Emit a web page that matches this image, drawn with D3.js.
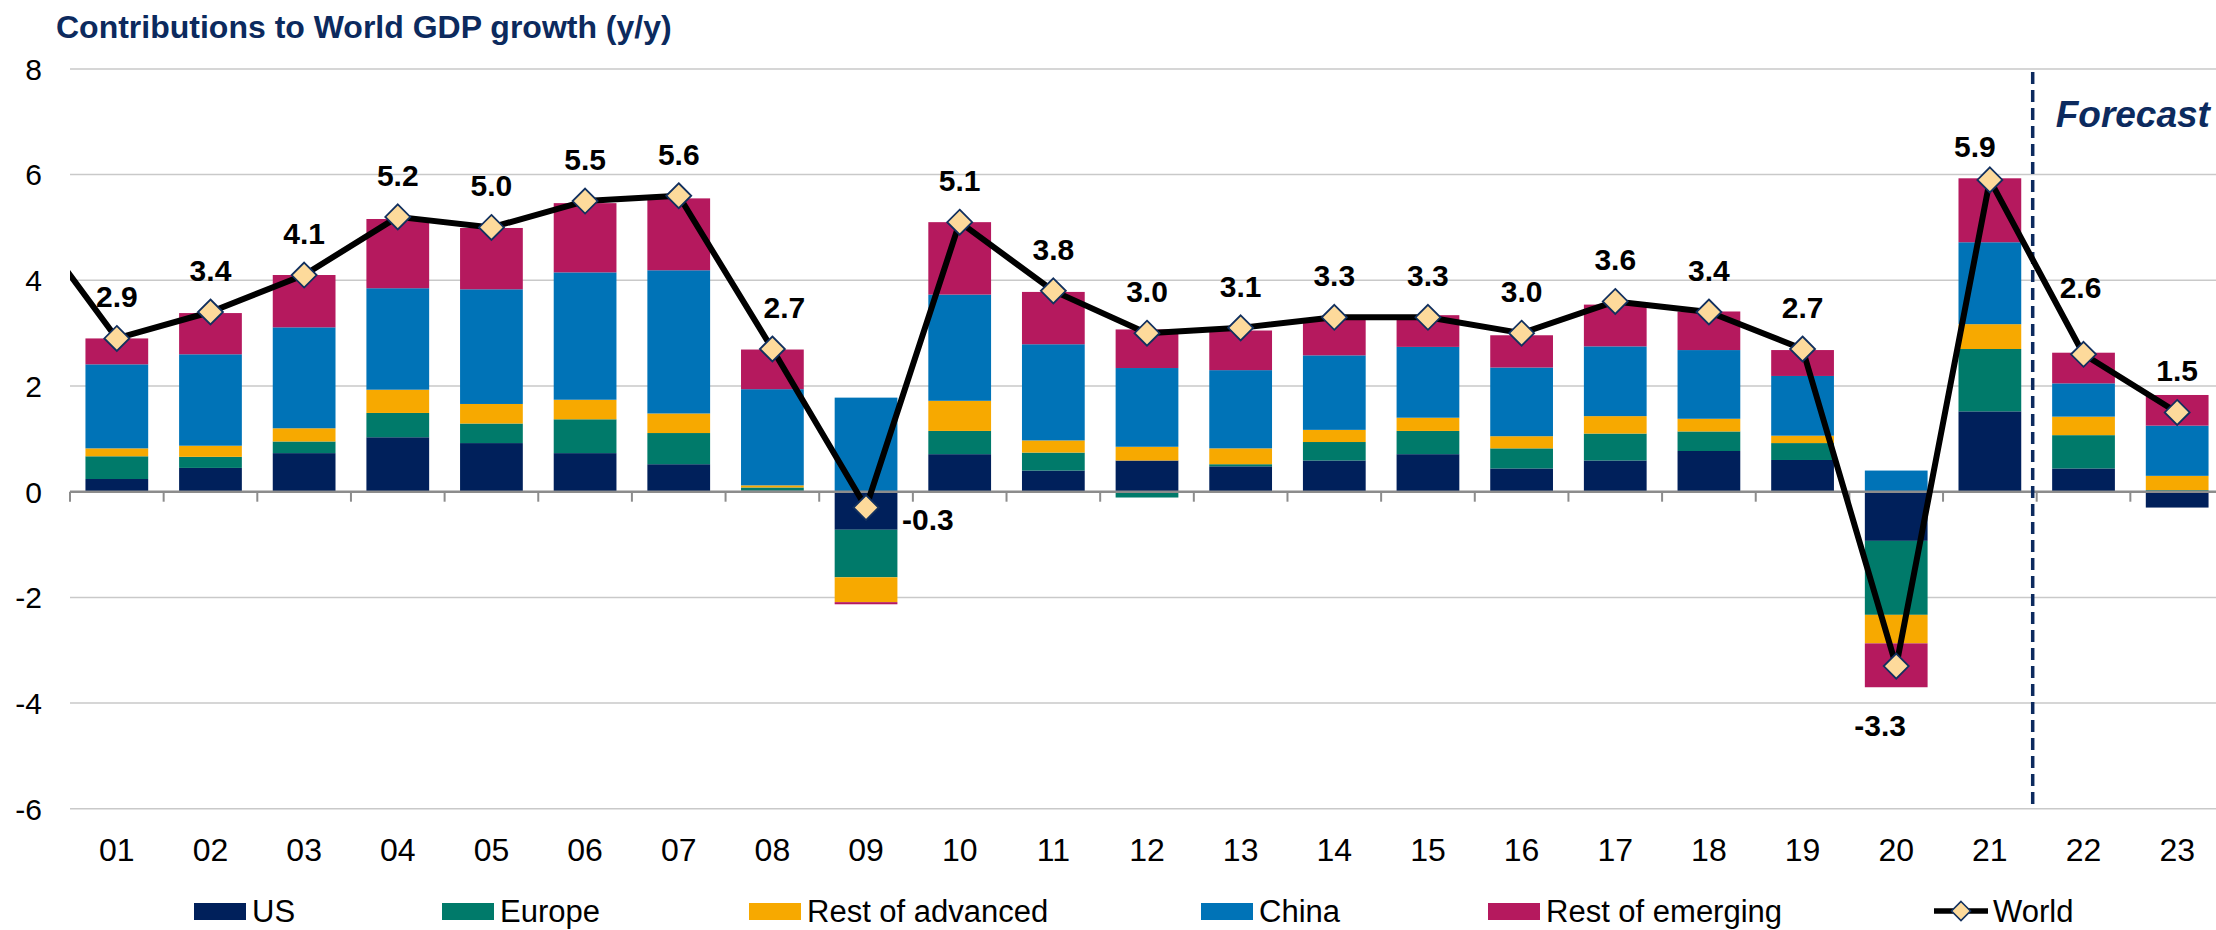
<!DOCTYPE html>
<html><head>
<meta charset="utf-8">
<title>Contributions to World GDP growth</title>
<script src="https://d3js.org/d3.v7.min.js"></script>
<style>
  body { margin: 0; background: white; font-family: Arial, "Liberation Sans", Helvetica, sans-serif; }
  .grid line { stroke: #c9c9c9; stroke-width: 1.5; }
  .tick-label { font-size: 30px; fill: #000; }
  .x-label { font-size: 32px; fill: #000; }
  .val-label { font-size: 30px; font-weight: bold; fill: #000; }
  .legend text { font-size: 31px; fill: #000; }
</style>
</head>
<body>
<div id="chart"></div>
<script>
// chart data
var years = ["01","02","03","04","05","06","07","08","09","10","11","12","13","14","15","16","17","18","19","20","21","22","23"];
var seriesNames = ["US", "Europe", "Rest of advanced", "China", "Rest of emerging"];
var us       = [0.24,0.45,0.73,1.03,0.92,0.73,0.52,0.02,-0.72,0.71,0.40,0.59,0.48,0.59,0.71,0.44,0.59,0.77,0.60,-0.93,1.52,0.44,-0.30];
var europe   = [0.43,0.21,0.22,0.46,0.37,0.64,0.59,0.06,-0.90,0.44,0.34,-0.11,0.04,0.35,0.44,0.38,0.51,0.37,0.32,-1.40,1.18,0.63,0.03];
var restAdv  = [0.15,0.21,0.25,0.44,0.37,0.37,0.37,0.04,-0.47,0.57,0.23,0.26,0.30,0.23,0.25,0.23,0.33,0.24,0.14,-0.54,0.47,0.35,0.27];
var china    = [1.59,1.73,1.91,1.92,2.17,2.41,2.71,1.82,1.78,2.01,1.82,1.49,1.48,1.41,1.34,1.30,1.32,1.30,1.13,0.40,1.55,0.63,0.95];
var restEm   = [0.49,0.78,0.99,1.31,1.16,1.31,1.36,0.75,-0.04,1.37,0.99,0.73,0.75,0.68,0.60,0.61,0.79,0.73,0.49,-0.83,1.21,0.58,0.58];
var world    = [2.9,3.4,4.1,5.2,5.0,5.5,5.6,2.7,-0.3,5.1,3.8,3.0,3.1,3.3,3.3,3.0,3.6,3.4,2.7,-3.3,5.9,2.6,1.5];
var worldPrev = 5.3;   // 2000 value, only the line going in from the left edge shows
var yTicks = [-6,-4,-2,0,2,4,6,8];
var firstForecast = "22";

var colors = ["#00205b", "#007a6a", "#f7a900", "#0073b7", "#b5195e"];

var W = 2216, H = 930;
var left = 70, right = 2224;

var svg = d3.select("#chart").append("svg")
  .attr("width", W).attr("height", H);

// scales
var x = d3.scaleBand()
  .domain(years)
  .range([left, right])
  .paddingInner(0.33)
  .paddingOuter(0.165);

var y = d3.scaleLinear()
  .domain([-6, 8])
  .range([808.8, 68.9]);

var step = x.step();
var cx = function(d) { return x(d) + x.bandwidth() / 2; };

// title
svg.append("text")
  .attr("x", 56).attr("y", 38)
  .style("font-size", "32px").style("font-weight", "bold").style("fill", "#0c2a5e")
  .text("Contributions to World GDP growth (y/y)");

// gridlines
svg.append("g").attr("class", "grid")
  .selectAll("line").data(yTicks.filter(function(t) { return t != 0; }))
  .join("line")
  .attr("x1", left).attr("x2", W)
  .attr("y1", function(d) { return y(d); }).attr("y2", function(d) { return y(d); });

// y labels
svg.append("g").selectAll("text").data(yTicks)
  .join("text")
  .attr("class", "tick-label")
  .attr("x", 42).attr("y", function(d) { return y(d); })
  .attr("dy", "0.36em")
  .attr("text-anchor", "end")
  .text(function(d) { return d; });

// stacked bars
var table = years.map(function(yr, i) {
  return {year: yr, "US": us[i], "Europe": europe[i], "Rest of advanced": restAdv[i],
          "China": china[i], "Rest of emerging": restEm[i]};
});
var stack = d3.stack().keys(seriesNames).offset(d3.stackOffsetDiverging);
var layers = stack(table);

svg.append("g").selectAll("g").data(layers)
  .join("g")
  .attr("fill", function(d, i) { return colors[i]; })
  .selectAll("rect").data(function(d) { return d; })
  .join("rect")
  .attr("x", function(d) { return x(d.data.year); })
  .attr("width", x.bandwidth())
  .attr("y", function(d) { return y(Math.max(d[0], d[1])); })
  .attr("height", function(d) { return Math.abs(y(d[0]) - y(d[1])); });

// zero axis with ticks
svg.append("line")
  .attr("x1", left).attr("x2", W)
  .attr("y1", y(0)).attr("y2", y(0))
  .style("stroke", "#8c8c8c").style("stroke-width", 2.5);

var bounds = d3.range(years.length + 1).map(function(i) { return left + i * step; });
svg.append("g").selectAll("line").data(bounds)
  .join("line")
  .attr("x1", function(d) { return d; }).attr("x2", function(d) { return d; })
  .attr("y1", y(0)).attr("y2", y(0) + 10)
  .style("stroke", "#8c8c8c").style("stroke-width", 2);

// x labels
svg.append("g").selectAll("text").data(years)
  .join("text")
  .attr("class", "x-label")
  .attr("x", function(d) { return cx(d); })
  .attr("y", 861)
  .attr("text-anchor", "middle")
  .text(function(d) { return d; });

// forecast divider
var fx = x(firstForecast) - (step - x.bandwidth()) / 2 - 4;
svg.append("line")
  .attr("x1", fx).attr("x2", fx)
  .attr("y1", y(8) + 3).attr("y2", y(-6))
  .style("stroke", "#0c2a5e").style("stroke-width", 3.5)
  .style("stroke-dasharray", "12,6");

svg.append("text")
  .attr("x", fx + 23).attr("y", 127)
  .style("font-size", "37px").style("font-weight", "bold").style("font-style", "italic")
  .style("fill", "#0c2a5e")
  .text("Forecast");

// world line, clipped to the plot area
svg.append("clipPath").attr("id", "plotClip")
  .append("rect").attr("x", left).attr("y", 0).attr("width", right - left).attr("height", H);

var linePts = [{x: cx(years[0]) - step, v: worldPrev}].concat(
  years.map(function(yr, i) { return {x: cx(yr), v: world[i]}; }));

var line = d3.line()
  .x(function(d) { return d.x; })
  .y(function(d) { return y(d.v); });

svg.append("path")
  .datum(linePts)
  .attr("clip-path", "url(#plotClip)")
  .attr("d", line)
  .style("fill", "none").style("stroke", "#000").style("stroke-width", 6)
  .style("stroke-linejoin", "round");

var diamond = function(r) { return "M0," + (-r) + "L" + r + ",0L0," + r + "L" + (-r) + ",0Z"; };

svg.append("g").selectAll("path").data(years)
  .join("path")
  .attr("transform", function(d, i) { return "translate(" + cx(d) + "," + y(world[i]) + ")"; })
  .attr("d", diamond(12.5))
  .style("fill", "#fdda9b").style("stroke", "#12305f").style("stroke-width", 1.8);

// value labels: placement nudges where the original moved a label off the line
var nudge = {"08": [12, -31], "09": [36, 22, "start"], "20": [-16, 70], "21": [-15, -23], "22": [-3, -56]};
svg.append("g").selectAll("text").data(years)
  .join("text")
  .attr("class", "val-label")
  .attr("x", function(d) { return cx(d) + (nudge[d] ? nudge[d][0] : 0); })
  .attr("y", function(d, i) { return y(world[i]) + (nudge[d] ? nudge[d][1] : -31); })
  .attr("text-anchor", function(d) { return nudge[d] && nudge[d][2] ? nudge[d][2] : "middle"; })
  .text(function(d, i) { return world[i].toFixed(1); });

// legend
var legendX = [194, 442, 749, 1201, 1488];
var legend = svg.append("g").attr("class", "legend");
seriesNames.forEach(function(name, i) {
  legend.append("rect")
    .attr("x", legendX[i]).attr("y", 903)
    .attr("width", 52).attr("height", 17)
    .style("fill", colors[i]);
  legend.append("text")
    .attr("x", legendX[i] + 58).attr("y", 922)
    .text(name);
});
legend.append("line")
  .attr("x1", 1934).attr("x2", 1988).attr("y1", 911).attr("y2", 911)
  .style("stroke", "#000").style("stroke-width", 5.5);
legend.append("path")
  .attr("transform", "translate(1961,911)")
  .attr("d", diamond(9.5))
  .style("fill", "#fdda9b").style("stroke", "#12305f").style("stroke-width", 1.6);
legend.append("text")
  .attr("x", 1993).attr("y", 922)
  .text("World");
</script>
</body></html>
